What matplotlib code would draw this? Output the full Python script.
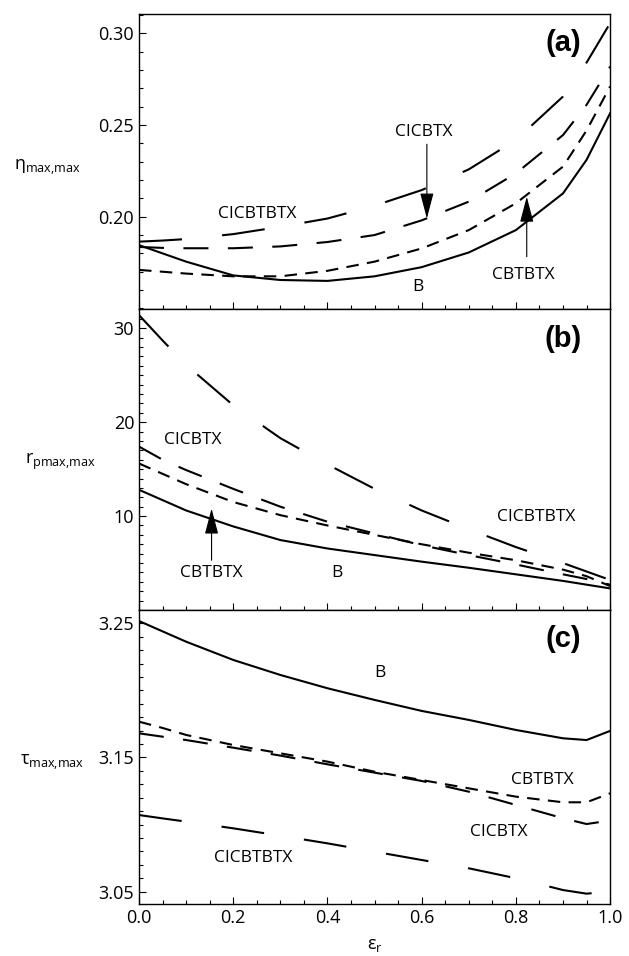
import matplotlib
matplotlib.use("Agg")
import matplotlib.pyplot as plt
from matplotlib.ticker import MultipleLocator, FixedLocator

plt.rcParams["font.family"] = ["Open Sans", "DejaVu Sans"]
plt.rcParams["mathtext.fontset"] = "custom"
plt.rcParams["mathtext.rm"] = "Open Sans"
plt.rcParams["mathtext.it"] = "Open Sans"
plt.rcParams["mathtext.default"] = "rm"
plt.rcParams["lines.scale_dashes"] = False

# data
eps_r = [0.0, 0.05, 0.1, 0.2, 0.3, 0.4, 0.5, 0.6, 0.7, 0.8, 0.9, 0.95, 1.0]

eta_B = [0.1845, 0.180, 0.1755, 0.168, 0.1655, 0.165, 0.1675, 0.1725, 0.1805, 0.1927, 0.2127, 0.231, 0.2564]
eta_CBTBTX = [0.171, 0.170, 0.169, 0.1675, 0.1675, 0.1705, 0.1755, 0.1827, 0.1927, 0.2073, 0.2273, 0.247, 0.271]
eta_CICBTX = [0.1835, 0.183, 0.1828, 0.1828, 0.1838, 0.1862, 0.190, 0.198, 0.2082, 0.2236, 0.2445, 0.261, 0.2818]
eta_CICBTBTX = [0.1864, 0.187, 0.1878, 0.1905, 0.1945, 0.199, 0.206, 0.2145, 0.2258, 0.2418, 0.2655, 0.284, 0.3055]

rp_B = [12.8, 11.7, 10.6, 8.9, 7.45, 6.55, 5.85, 5.15, 4.5, 3.8, 3.1, 2.7, 2.3]
rp_CBTBTX = [15.6, 14.5, 13.4, 11.5, 10.1, 9.0, 8.0, 7.0, 6.1, 5.3, 4.3, 3.6, 2.55]
rp_CICBTX = [17.4, 16.0, 14.9, 12.9, 11.0, 9.4, 8.15, 6.9, 5.85, 4.85, 3.8, 3.3, 2.7]
rp_CICBTBTX = [31.4, 28.7, 26.1, 21.8, 18.3, 15.5, 12.9, 10.6, 8.6, 6.7, 5.0, 4.1, 3.2]

tau_B = [3.2517, 3.244, 3.2363, 3.2227, 3.2115, 3.2016, 3.1929, 3.1847, 3.178, 3.1705, 3.1643, 3.163, 3.1698]
tau_CBTBTX = [3.1767, 3.172, 3.1668, 3.1593, 3.1531, 3.1469, 3.1394, 3.1332, 3.127, 3.1208, 3.1166, 3.1166, 3.1233]
tau_CICBTX = [3.168, 3.1655, 3.163, 3.1573, 3.1514, 3.1449, 3.1387, 3.1325, 3.1245, 3.1146, 3.1047, 3.1004, 3.103]
tau_CICBTBTX = [3.1071, 3.1046, 3.1022, 3.0972, 3.0917, 3.086, 3.0798, 3.0736, 3.0674, 3.06, 3.0512, 3.0485, 3.05]

x_ticks = [0.0, 0.2, 0.4, 0.6, 0.8, 1.0]
x_ticklabels = ["0.0", "0.2", "0.4", "0.6", "0.8", "1.0"]

styles = {
    "B": "-",
    "CBTBTX": (0, (9, 6)),
    "CICBTX": (0, (18, 14)),
    "CICBTBTX": (0, (31, 29)),
}

fig = plt.figure(figsize=(6.29, 9.56), dpi=100)
left, width = 0.221, 0.749
ax_a = fig.add_axes([left, 0.6768, width, 0.3086])
ax_b = fig.add_axes([left, 0.3619, width, 0.3149])
ax_c = fig.add_axes([left, 0.0544, width, 0.3075])

panels = [
    (ax_a, "(a)", [eta_B, eta_CBTBTX, eta_CICBTX, eta_CICBTBTX]),
    (ax_b, "(b)", [rp_B, rp_CBTBTX, rp_CICBTX, rp_CICBTBTX]),
    (ax_c, "(c)", [tau_B, tau_CBTBTX, tau_CICBTX, tau_CICBTBTX]),
]
for ax, tag, series in panels:
    for name, ys in zip(styles, series):
        ax.plot(eps_r, ys, color="black", lw=1.5, linestyle=styles[name])
    ax.set_xlim(0, 1)
    ax.xaxis.set_major_locator(FixedLocator(x_ticks))
    ax.xaxis.set_minor_locator(MultipleLocator(0.05))
    ax.tick_params(which="both", direction="in", top=False, right=False, width=0.8,
                   labelsize=13, colors="black")
    ax.tick_params(which="major", length=5)
    ax.tick_params(which="minor", length=3)
    for sp in ax.spines.values():
        sp.set_linewidth(1.0)
    ax.text(0.9, 0.9, tag, transform=ax.transAxes, ha="center", va="center",
            fontsize=21, fontweight="bold", family="Liberation Sans")

ax_a.set_ylim(0.1497, 0.3105)
ax_a.yaxis.set_major_locator(FixedLocator([0.20, 0.25, 0.30]))
ax_a.yaxis.set_minor_locator(FixedLocator([0.15 + 0.01 * i for i in range(17)]))
ax_a.set_yticklabels(["0.20", "0.25", "0.30"])
ax_a.set_xticklabels([])

ax_b.set_ylim(0, 32.05)
ax_b.yaxis.set_major_locator(FixedLocator([10, 20, 30]))
ax_b.yaxis.set_minor_locator(MultipleLocator(1))
ax_b.set_xticklabels([])

ax_c.set_ylim(3.0408, 3.2599)
ax_c.yaxis.set_major_locator(FixedLocator([3.05, 3.15, 3.25]))
ax_c.yaxis.set_minor_locator(FixedLocator([3.04 + 0.01 * i for i in range(23)]))
ax_c.set_yticklabels(["3.05", "3.15", "3.25"])
ax_c.set_xticklabels(x_ticklabels)

lab = dict(fontsize=12.5, ha="center", va="center")
arrow = dict(arrowstyle="-|>,head_length=1.6,head_width=0.42", color="black",
             lw=0.8, shrinkA=0, shrinkB=0)

# panel (a)
ax_a.text(0.604, 0.2464, "CICBTX", **lab)
ax_a.annotate("", xy=(0.611, 0.199), xytext=(0.611, 0.2395), arrowprops=arrow)
ax_a.text(0.25, 0.2013, "CICBTBTX", **lab)
ax_a.text(0.816, 0.168, "CBTBTX", **lab)
ax_a.annotate("", xy=(0.823, 0.2109), xytext=(0.823, 0.1782), arrowprops=arrow)
ax_a.text(0.593, 0.1618, "B", **lab)

# panel (b)
ax_b.text(0.114, 18.1, "CICBTX", **lab)
ax_b.text(0.844, 9.93, "CICBTBTX", **lab)
ax_b.text(0.154, 3.9, "CBTBTX", **lab)
ax_b.annotate("", xy=(0.154, 10.8), xytext=(0.154, 5.3), arrowprops=arrow)
ax_b.text(0.42, 3.9, "B", **lab)

# panel (c)
ax_c.text(0.512, 3.2127, "B", **lab)
ax_c.text(0.855, 3.1332, "CBTBTX", **lab)
ax_c.text(0.763, 3.0942, "CICBTX", **lab)
ax_c.text(0.243, 3.075, "CICBTBTX", **lab)

fig.text(0.075, 0.825, r"$\eta_{\mathrm{max{,}max}}$", fontsize=13, ha="center", va="center")
fig.text(0.096, 0.517, r"$r_{\mathrm{pmax{,}max}}$", fontsize=13, ha="center", va="center")
fig.text(0.083, 0.203, r"$\tau_{\mathrm{max{,}max}}$", fontsize=13, ha="center", va="center")
fig.text(0.596, 0.0115, r"$\varepsilon_{r}$", fontsize=13, ha="center", va="center")

fig.savefig("out.png", dpi=100, facecolor="white")
